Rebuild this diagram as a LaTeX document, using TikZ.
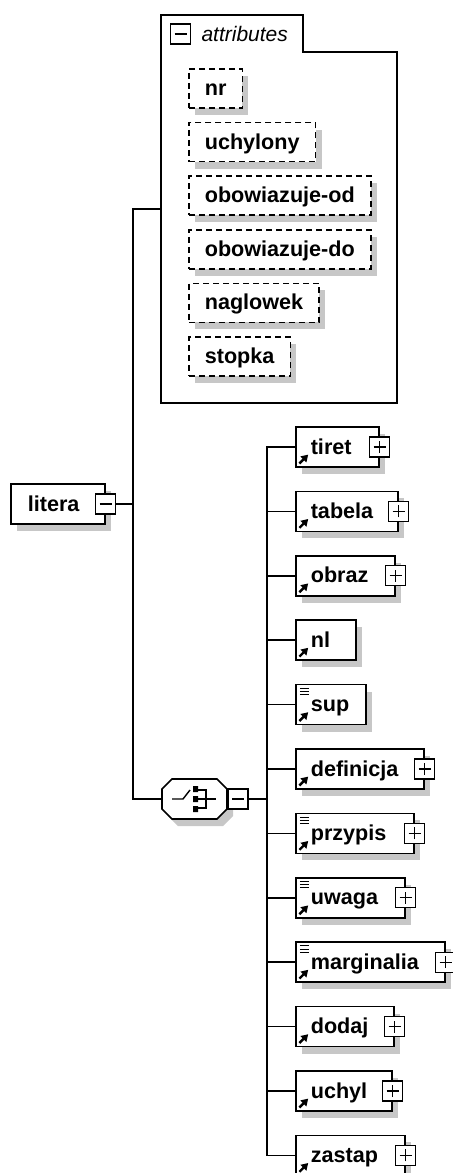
\documentclass[tikz,border=0pt]{standalone}
\usepackage{fontspec}
\setmainfont{Liberation Sans}
\usepackage{tikz}
\usetikzlibrary{positioning,arrows.meta,shadows}

\newcommand{\elemfont}{\fontsize{10.8}{12}\selectfont\bfseries}
\newcommand{\headfont}{\fontsize{10.5}{12}\selectfont\itshape}
\newcommand{\refmark}{\draw[line width=1.2pt,-{Triangle[length=3.4pt,width=4pt]}]
  ([shift={(1.8pt,1.8pt)}]path picture bounding box.south west) -- ++(4.4pt,4.4pt);}
\newcommand{\mixmark}{\draw[line width=0.45pt]
  ([shift={(2pt,-1.8pt)}]path picture bounding box.north west) -- ++(4.5pt,0pt)
  ([shift={(2pt,-3.4pt)}]path picture bounding box.north west) -- ++(4.5pt,0pt)
  ([shift={(2pt,-5pt)}]path picture bounding box.north west) -- ++(4.5pt,0pt);}

\begin{document}
\begin{tikzpicture}[x=0.5pt,y=-0.5pt,
  conn/.style={line width=0.8pt},
  boxshadow/.style={drop shadow={shadow xshift=3pt,shadow yshift=-3.5pt,fill=black!22,opacity=1}},
  elbox/.style={draw,fill=white,line width=0.8pt,boxshadow,minimum height=20pt,inner xsep=7.5pt,inner ysep=0pt,
    text height=9pt,text depth=2pt,align=left,font=\elemfont},
  elem/.style={elbox,text width=#1,path picture={\refmark}},
  melem/.style={elbox,text width=#1,path picture={\refmark\mixmark}},
  attr/.style={elbox,dash pattern=on 3pt off 2pt,inner xsep=8pt,minimum height=19.5pt},
  tplus/.style={draw,fill=white,line width=0.6pt,minimum size=10pt,inner sep=0pt,
    path picture={\draw[line width=0.6pt]
      ([xshift=2pt]path picture bounding box.west) -- ([xshift=-2pt]path picture bounding box.east)
      ([yshift=2pt]path picture bounding box.south) -- ([yshift=-2pt]path picture bounding box.north);}},
  tminus/.style={draw,fill=white,line width=0.6pt,minimum size=10pt,inner sep=0pt,
    path picture={\draw[line width=0.6pt]
      ([xshift=2pt]path picture bounding box.west) -- ([xshift=-2pt]path picture bounding box.east);}}]
\useasboundingbox (0,0) rectangle (452,1173);

% ---- attributes group ----
\draw[conn] (161,15) -- (303,15) -- (303,52) -- (397,52) -- (397,403) -- (161,403) -- cycle;
\coordinate (attrW) at (161,209);
\node[tminus] (attrT) at (180.5,34) {};
\node[font=\headfont,inner sep=1pt,right=4pt of attrT] (attrL) {attributes};
\node[attr,anchor=west] (nr) at (188,88.5) {nr};
\node[attr,below right=6.5pt and 0pt of nr.south west] (uchylony) {uchylony};
\node[attr,below right=6.5pt and 0pt of uchylony.south west] (obowOd) {obowiazuje-od};
\node[attr,below right=6.5pt and 0pt of obowOd.south west] (obowDo) {obowiazuje-do};
\node[attr,below right=6.5pt and 0pt of obowDo.south west] (naglowek) {naglowek};
\node[attr,below right=6.5pt and 0pt of naglowek.south west] (stopka) {stopka};

% ---- root element ----
\node[elbox,anchor=west,text width=30pt,inner xsep=8.5pt] (litera) at (10,504) {litera};
\node[tminus] (literaT) at (litera.east) {};
\coordinate (spine) at (133,504);

% ---- choice compositor ----
\node[minimum width=32.5pt,minimum height=20pt,inner sep=0pt] (choice) at (194.5,799) {};
\draw[conn,fill=white,boxshadow] (162,789) -- (172,779) -- (217,779) -- (227,789) -- (227,809) -- (217,819) -- (172,819) -- (162,809) -- cycle;
\draw[line width=0.7pt] (172,799) -- (183,799) -- (190,790);
\fill (193,786) rectangle (198,792) (193,796) rectangle (198,802) (193,806) rectangle (198,812);
\draw[line width=0.7pt] (198,790) -- (206,790) -- (206,808) -- (198,808) (198,799) -- (216,799);
\node[tminus,right=0pt of choice] (choiceT) {};
\coordinate (hub) at (267,799);

% ---- child elements ----
\node[elem=26.5pt,anchor=west] (tiret) at (295,447) {tiret};
\node[elem=36pt,below right=11.4pt and 0pt of tiret.south west] (tabela) {tabela};
\node[elem=34.5pt,below right=11.4pt and 0pt of tabela.south west] (obraz) {obraz};
\node[elem=15pt,below right=11.4pt and 0pt of obraz.south west] (nl) {nl};
\node[melem=20pt,below right=11.4pt and 0pt of nl.south west] (sup) {sup};
\node[elem=49pt,below right=11.4pt and 0pt of sup.south west] (definicja) {definicja};
\node[melem=44pt,below right=11.4pt and 0pt of definicja.south west] (przypis) {przypis};
\node[melem=39.5pt,below right=11.4pt and 0pt of przypis.south west] (uwaga) {uwaga};
\node[melem=59.5pt,below right=11.4pt and 0pt of uwaga.south west] (marginalia) {marginalia};
\node[elem=34pt,below right=11.4pt and 0pt of marginalia.south west] (dodaj) {dodaj};
\node[elem=33pt,below right=11.4pt and 0pt of dodaj.south west] (uchyl) {uchyl};
\node[elem=39.5pt,below right=11.4pt and 0pt of uchyl.south west] (zastap) {zastap};
\foreach \c in {tiret,tabela,obraz,definicja,przypis,uwaga,marginalia,dodaj,uchyl,zastap}
  \node[tplus] (\c T) at (\c.east) {};

% ---- connectors ----
\draw[conn] (literaT) -- (spine);
\draw[conn] (attrW) -| (spine) |- (choice.west);
\draw[conn] (choiceT) -- (hub);
\foreach \c in {tiret,tabela,obraz,nl,sup,definicja,przypis,uwaga,marginalia,dodaj,uchyl,zastap}
  \draw[conn] (hub) |- (\c.west);
\end{tikzpicture}
\end{document}
